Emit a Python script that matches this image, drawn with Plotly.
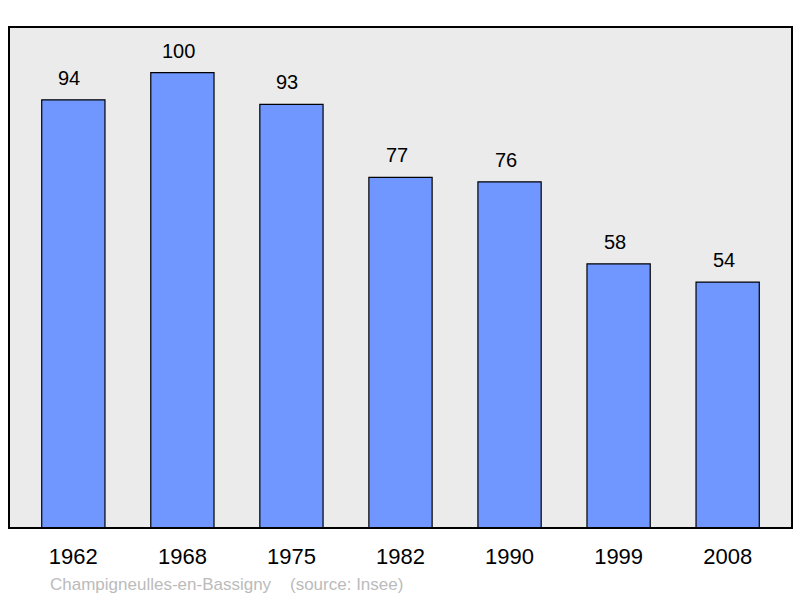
import plotly.graph_objects as go

years = ["1962", "1968", "1975", "1982", "1990", "1999", "2008"]
population = [94, 100, 93, 77, 76, 58, 54]
caption = "Champigneulles-en-Bassigny    (source: Insee)"

fig = go.Figure()
fig.add_trace(go.Bar(
    x=years, y=population, width=0.58,
    marker=dict(color="#7097ff", line=dict(color="#000000", width=1.2)),
    hoverinfo="skip",
))

for i, v in enumerate(population):
    fig.add_annotation(x=i, y=v, text=str(v), showarrow=False,
                       yanchor="bottom", yshift=9, xshift=-4,
                       font=dict(size=20, color="#000000"))

fig.add_annotation(xref="paper", yref="paper", x=(48 - 9) / 783, y=-56 / 501,
                   xanchor="left", yanchor="middle",
                   text=caption.replace("    ", "&nbsp;&nbsp;&nbsp;&nbsp;"),
                   showarrow=False, font=dict(size=17, color="#bbbbbb"))

fig.add_shape(type="rect", xref="paper", yref="paper", x0=0, y0=0, x1=1, y1=1,
              line=dict(color="#000000", width=2), layer="above")

fig.update_layout(
    width=800, height=598,
    margin=dict(l=9, r=8, t=27, b=70),
    paper_bgcolor="#ffffff", plot_bgcolor="#ebebeb",
    font=dict(family="Liberation Sans, Arial, sans-serif", color="#000000"),
    showlegend=False,
    xaxis=dict(type="category", range=[-0.59, 6.59], showgrid=False, zeroline=False,
               ticks="outside", ticklen=9, tickcolor="rgba(0,0,0,0)",
               tickfont=dict(size=22), fixedrange=True),
    yaxis=dict(range=[0, 110], showgrid=False, zeroline=False,
               showticklabels=False, fixedrange=True),
)

fig.write_html("out.html", config={"displayModeBar": False},
               post_script="document.body.style.margin='0';document.body.style.padding='0';")
